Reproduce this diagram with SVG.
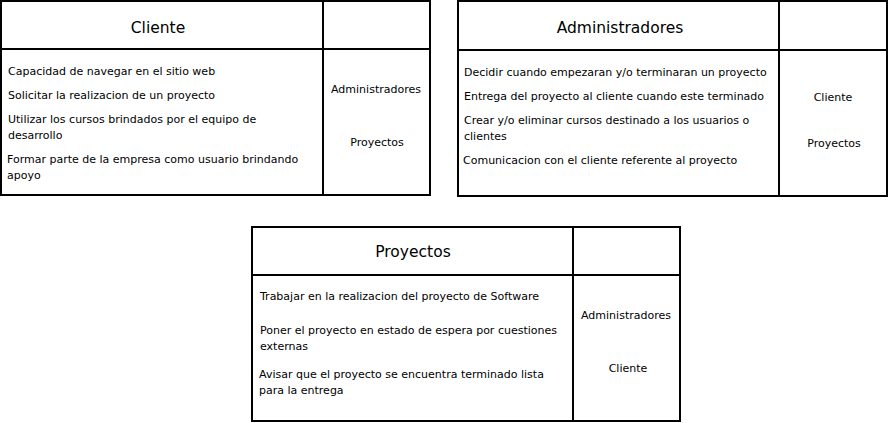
<svg xmlns="http://www.w3.org/2000/svg" width="889" height="423" viewBox="0 0 889 423">
<style>
.card{fill:#fff;stroke:#000;stroke-width:2}
.ln{stroke:#000;stroke-width:2}
text{font-family:"DejaVu Sans",Verdana,sans-serif;fill:#000}
.t{font-size:15.5px;text-anchor:middle}
.b{font-size:11px}
.c{font-size:11px;text-anchor:middle}
</style>
<rect width="889" height="423" fill="#fff"/>
<g id="cliente">
<rect class="card" x="1" y="1" width="429" height="194"/>
<line class="ln" x1="323" y1="1" x2="323" y2="195"/>
<line class="ln" x1="1" y1="49" x2="430" y2="49"/>
<text class="t" x="158" y="33">Cliente</text>
<text class="b" x="8" y="75">Capacidad de navegar en el sitio web</text>
<text class="b" x="8" y="99">Solicitar la realizacion de un proyecto</text>
<text class="b" x="8" y="123">Utilizar los cursos brindados por el equipo de</text>
<text class="b" x="8" y="139">desarrollo</text>
<text class="b" x="7" y="163">Formar parte de la empresa como usuario brindando</text>
<text class="b" x="7" y="179">apoyo</text>
<text class="c" x="376" y="93">Administradores</text>
<text class="c" x="377" y="146">Proyectos</text>
</g>
<g id="administradores">
<rect class="card" x="458" y="1" width="429" height="195"/>
<line class="ln" x1="779" y1="1" x2="779" y2="196"/>
<line class="ln" x1="458" y1="50" x2="887" y2="50"/>
<text class="t" x="620" y="33">Administradores</text>
<text class="b" x="464" y="76">Decidir cuando empezaran y/o terminaran un proyecto</text>
<text class="b" x="464" y="100">Entrega del proyecto al cliente cuando este terminado</text>
<text class="b" x="464" y="124">Crear y/o eliminar cursos destinado a los usuarios o</text>
<text class="b" x="464" y="140">clientes</text>
<text class="b" x="463" y="164">Comunicacion con el cliente referente al proyecto</text>
<text class="c" x="833" y="101">Cliente</text>
<text class="c" x="834" y="147">Proyectos</text>
</g>
<g id="proyectos">
<rect class="card" x="252" y="227" width="428" height="194"/>
<line class="ln" x1="573" y1="227" x2="573" y2="421"/>
<line class="ln" x1="252" y1="275" x2="680" y2="275"/>
<text class="t" x="413" y="257">Proyectos</text>
<text class="b" x="260" y="300">Trabajar en la realizacion del proyecto de Software</text>
<text class="b" x="260" y="334">Poner el proyecto en estado de espera por cuestiones</text>
<text class="b" x="260" y="350">externas</text>
<text class="b" x="259" y="378">Avisar que el proyecto se encuentra terminado lista</text>
<text class="b" x="259" y="394">para la entrega</text>
<text class="c" x="626" y="319">Administradores</text>
<text class="c" x="628" y="372">Cliente</text>
</g>
<g id="connectors"/>
</svg>
